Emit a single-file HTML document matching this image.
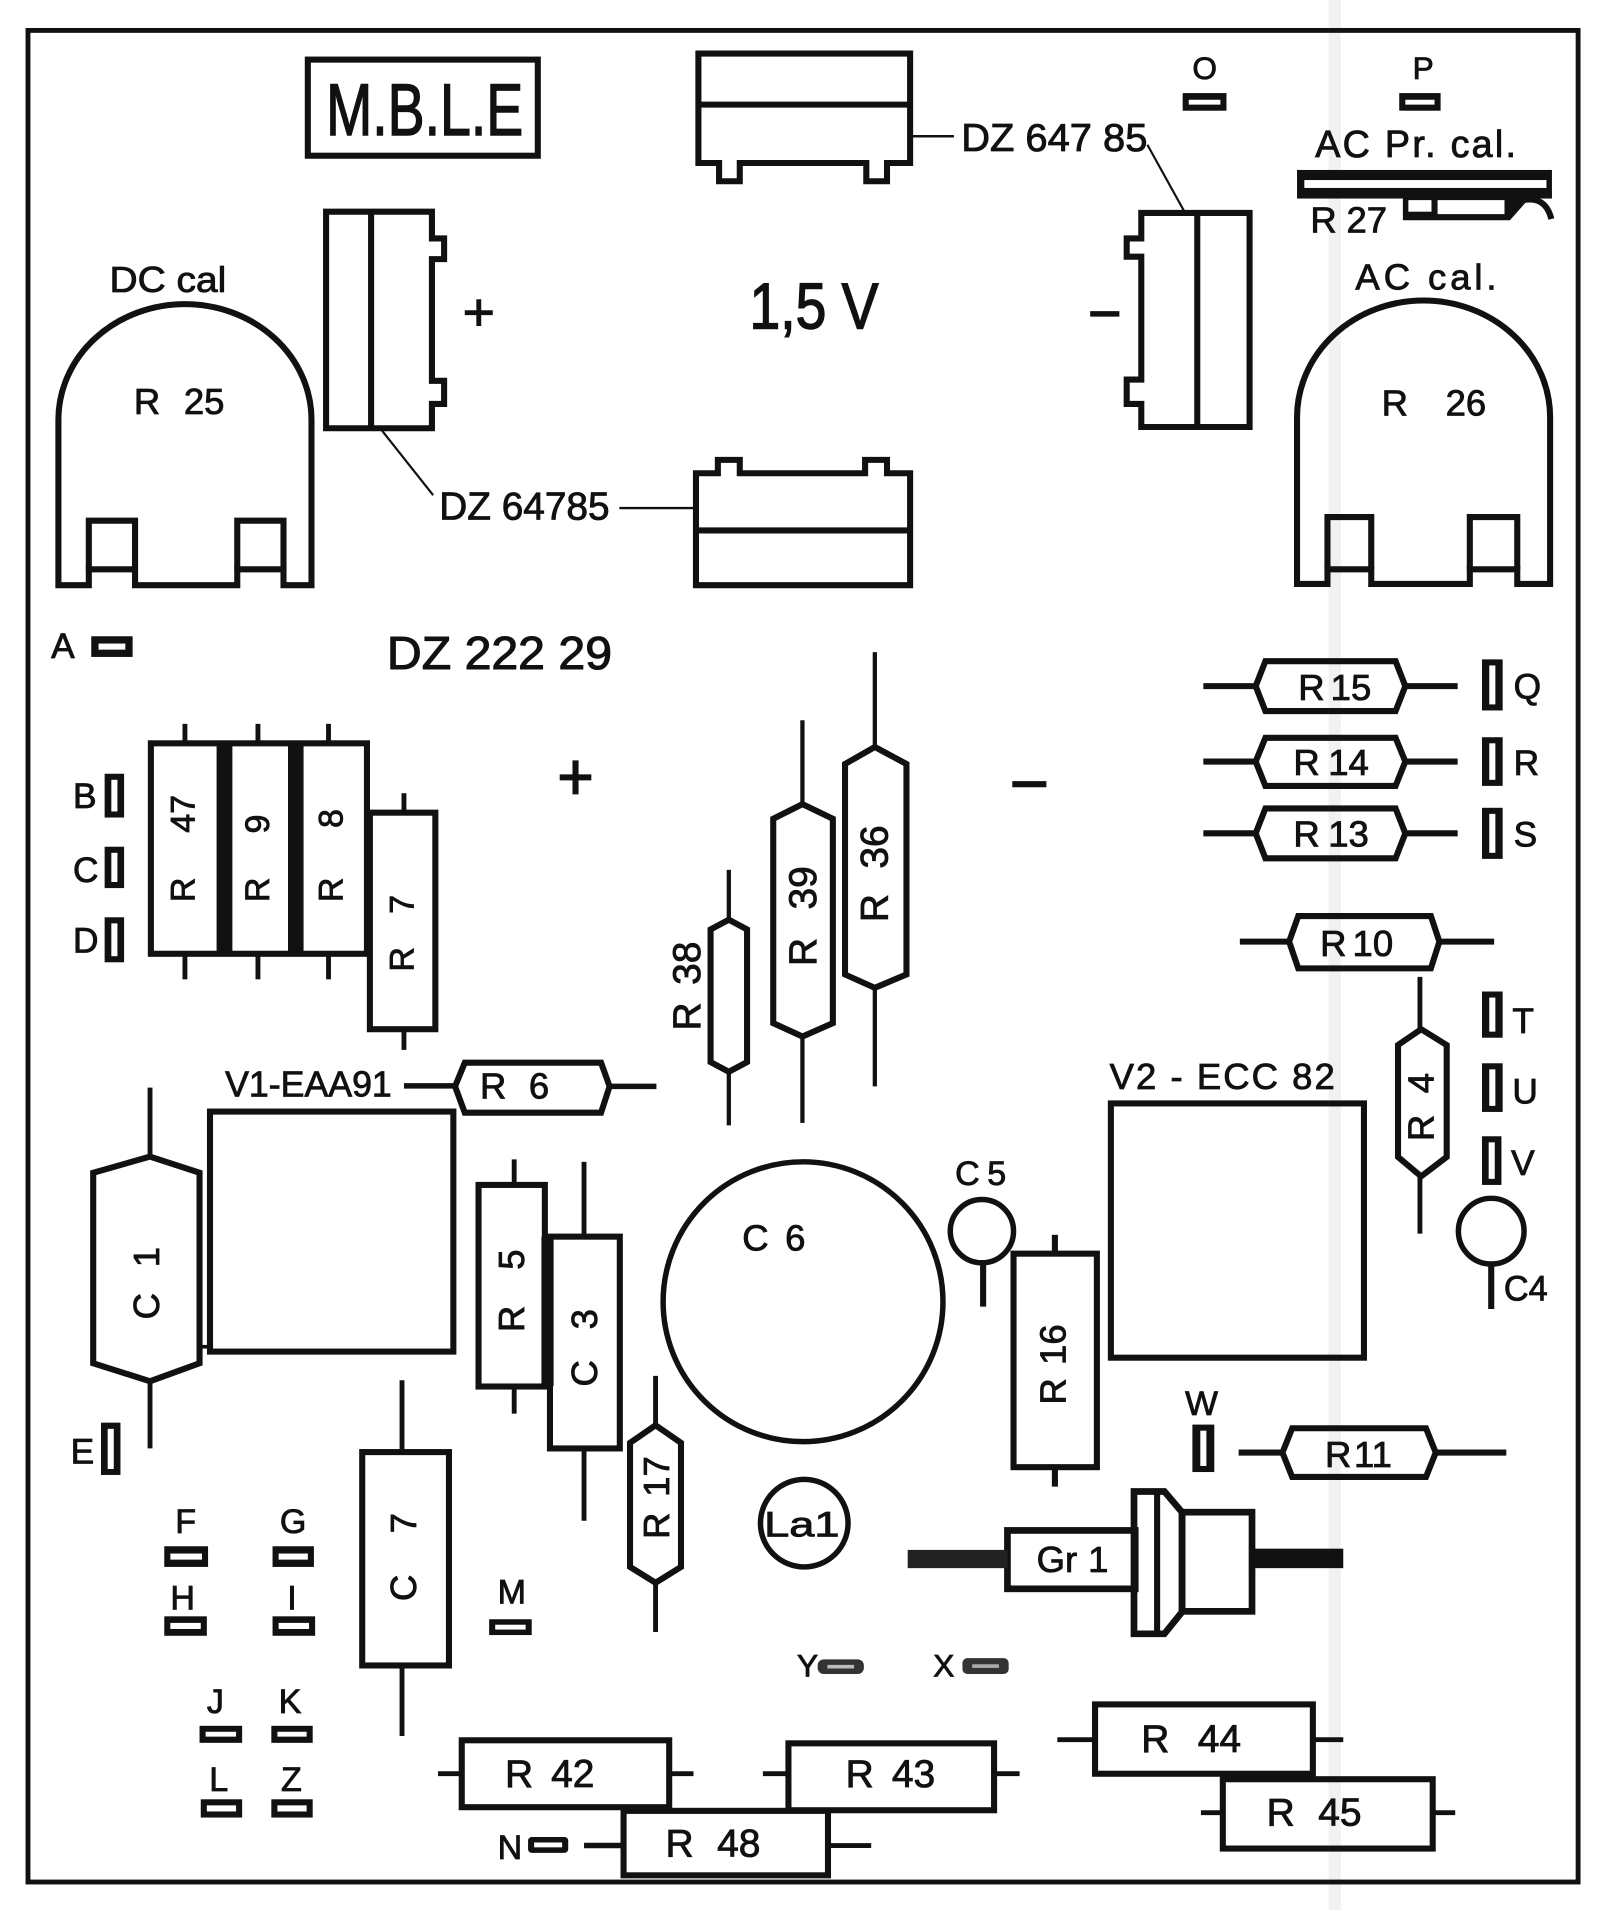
<!DOCTYPE html>
<html><head><meta charset="utf-8"><style>html,body{margin:0;padding:0;background:#fff}svg{display:block}</style></head>
<body>
<svg width="1600" height="1910" viewBox="0 0 1315 1570" preserveAspectRatio="none" xmlns="http://www.w3.org/2000/svg" font-family="'Liberation Sans', 'DejaVu Sans', sans-serif" fill="#111">
<rect x="0" y="0" width="1315" height="1570" fill="#fff"/>
<!-- faint fold stripe -->
<rect x="1092" y="0" width="10" height="1570" fill="#e8e8e8" opacity="0.6"/>

<g fill="none" stroke="#111" stroke-width="5" stroke-linejoin="miter">
  <!-- border -->
  <rect x="23" y="25" width="1274" height="1522" stroke-width="4"/>
  <!-- MBLE -->
  <rect x="253" y="49" width="189" height="79"/>
  <!-- top DZ -->
  <path d="M574,44 H748 V134 H729 V149 H712 V134 H608 V149 H591 V134 H574 Z"/>
  <line x1="574" y1="86" x2="748" y2="86"/>
  <!-- left vertical DZ -->
  <path d="M268,174 H355 V196 H365 V213 H355 V313 H365 V332 H355 V352 H268 Z"/>
  <line x1="305" y1="174" x2="305" y2="352"/>
  <!-- bottom DZ -->
  <path d="M572,389 H590 V378 H608 V389 H711 V378 H729 V389 H748 V481 H572 Z"/>
  <line x1="572" y1="436" x2="748" y2="436"/>
  <!-- right vertical DZ -->
  <path d="M1027,175 V351 H938 V332 H926 V312 H938 V211 H926 V196 H938 V175 Z"/>
  <line x1="984" y1="175" x2="984" y2="351"/>
  <!-- R25 dome -->
  <path d="M48,481 V345 A104,95 0 0 1 256,345 V481 H233 V468 H195 V481 H111 V468 H73 V481 Z"/>
  <path d="M73,468 V428 H111 V468 M195,468 V428 H233 V468"/>
  <!-- R26 dome -->
  <path d="M1066,480 V343 A104,96 0 0 1 1274,343 V480 H1247 V468 H1208 V480 H1127 V468 H1091 V480 Z"/>
  <path d="M1091,468 V425 H1127 V468 M1208,468 V425 H1247 V468"/>

  <!-- R47 R9 R8 block -->
  <rect x="124" y="611" width="177.6" height="173"/>
  <line x1="152" y1="595" x2="152" y2="611" stroke-width="4"/>
  <line x1="212" y1="595" x2="212" y2="611" stroke-width="4"/>
  <line x1="270" y1="595" x2="270" y2="611" stroke-width="4"/>
  <line x1="152" y1="784" x2="152" y2="805" stroke-width="4"/>
  <line x1="212" y1="784" x2="212" y2="805" stroke-width="4"/>
  <line x1="270" y1="784" x2="270" y2="805" stroke-width="4"/>
  <!-- R7 -->
  <rect x="304" y="668" width="53.8" height="178"/>
  <line x1="332" y1="652" x2="332" y2="668" stroke-width="4"/>
  <line x1="332" y1="846" x2="332" y2="863" stroke-width="4"/>

  <!-- R38 -->
  <path d="M599,756 L614,764 V873 L599,881 L584,873 V764 Z"/>
  <line x1="599" y1="715" x2="599" y2="756" stroke-width="3.5"/>
  <line x1="599" y1="881" x2="599" y2="925" stroke-width="3.5"/>
  <!-- R39 -->
  <path d="M659.5,661 L684.5,673 V841 L659.5,852 L635.5,841 V673 Z"/>
  <line x1="659.5" y1="592" x2="659.5" y2="661" stroke-width="3.5"/>
  <line x1="659.5" y1="852" x2="659.5" y2="923" stroke-width="3.5"/>
  <!-- R36 -->
  <path d="M719,614 L745,628 V801 L719,812 L694.5,801 V628 Z"/>
  <line x1="719" y1="536" x2="719" y2="614" stroke-width="3.5"/>
  <line x1="719" y1="812" x2="719" y2="893" stroke-width="3.5"/>

  <!-- R15 R14 R13 R10 -->
  <path d="M1032,564 L1040,543.5 H1147 L1155,564 L1147,584.5 H1040 Z"/>
  <path d="M1032,626 L1040,606.5 H1147 L1155,626 L1147,646 H1040 Z"/>
  <path d="M1032,685 L1040,664.5 H1147 L1155,685 L1147,705.5 H1040 Z"/>
  <path d="M1059.5,774 L1067,753 H1176 L1183,774 L1176,796 H1067 Z"/>
  <g stroke-width="5">
    <line x1="989" y1="564" x2="1032" y2="564"/><line x1="1155" y1="564" x2="1198" y2="564"/>
    <line x1="989" y1="626" x2="1032" y2="626"/><line x1="1155" y1="626" x2="1198" y2="626"/>
    <line x1="989" y1="685" x2="1032" y2="685"/><line x1="1155" y1="685" x2="1198" y2="685"/>
    <line x1="1019" y1="774" x2="1059.5" y2="774"/><line x1="1183" y1="774" x2="1228" y2="774"/>
  </g>
  <!-- R4 -->
  <path d="M1168,846 L1189,859 V951 L1168,967 L1149,951 V859 Z"/>
  <line x1="1167" y1="803" x2="1167" y2="846" stroke-width="4"/>
  <line x1="1167" y1="967" x2="1167" y2="1014" stroke-width="4"/>
  <!-- C4 -->
  <circle cx="1225.6" cy="1012" r="27" stroke-width="4.5"/>
  <line x1="1225.6" y1="1039" x2="1225.6" y2="1076" stroke-width="5"/>
  <!-- V2 -->
  <rect x="913" y="907" width="208" height="209"/>
  <!-- C5 -->
  <circle cx="807" cy="1012" r="26" stroke-width="4.5"/>
  <line x1="808" y1="1038" x2="808" y2="1074" stroke-width="5"/>
  <!-- R16 -->
  <rect x="833" y="1030.5" width="68.5" height="175.5"/>
  <line x1="867" y1="1015" x2="867" y2="1030" stroke-width="5"/>
  <line x1="867" y1="1206" x2="867" y2="1222" stroke-width="5"/>
  <!-- C6 -->
  <circle cx="660" cy="1070" r="115" stroke-width="4.5"/>
  <!-- La1 -->
  <circle cx="661" cy="1252" r="36" stroke-width="4.5"/>
  <!-- Gr1 -->
  <rect x="828" y="1258" width="105" height="48" stroke-width="5.5"/>
  <path d="M932,1226 H957 L971.5,1243 V1325 L957,1343 H932 Z" stroke-width="5.5"/>
  <line x1="951" y1="1226" x2="951" y2="1343" stroke-width="5"/>
  <rect x="971.5" y="1243" width="57.5" height="81.5" stroke-width="5.5"/>
  <!-- R11 -->
  <path d="M1054,1194 L1062,1174 H1172 L1180,1194 L1172,1214 H1062 Z"/>
  <line x1="1018" y1="1194" x2="1054" y2="1194"/><line x1="1180" y1="1194" x2="1238" y2="1194"/>
  <!-- R44 R45 R43 R42 R48 -->
  <rect x="900" y="1401" width="179" height="57"/>
  <line x1="869" y1="1430" x2="900" y2="1430" stroke-width="4"/><line x1="1079" y1="1430" x2="1104" y2="1430" stroke-width="4"/>
  <rect x="1005" y="1462.5" width="172.5" height="57"/>
  <line x1="987" y1="1490" x2="1005" y2="1490" stroke-width="4"/><line x1="1177" y1="1490" x2="1196" y2="1490" stroke-width="4"/>
  <rect x="648" y="1433" width="169" height="55"/>
  <line x1="627" y1="1458" x2="648" y2="1458" stroke-width="4"/><line x1="817" y1="1458" x2="838" y2="1458" stroke-width="4"/>
  <rect x="379.5" y="1430.5" width="170.5" height="55"/>
  <line x1="360" y1="1458" x2="379.5" y2="1458" stroke-width="4"/><line x1="550" y1="1458" x2="570" y2="1458" stroke-width="4"/>
  <rect x="512.5" y="1488.5" width="168" height="53"/>
  <line x1="480" y1="1517" x2="512.5" y2="1517" stroke-width="4.5"/><line x1="680.5" y1="1517" x2="716" y2="1517" stroke-width="4"/>
  <!-- C7 -->
  <rect x="297.7" y="1193.6" width="71.3" height="175.4"/>
  <line x1="330.4" y1="1134.6" x2="330.4" y2="1193.6" stroke-width="4"/>
  <line x1="330.4" y1="1369" x2="330.4" y2="1427" stroke-width="4"/>
  <!-- C1 -->
  <path d="M123.3,950.7 L164,964 V1120.6 L123.3,1135.4 L76.6,1120.6 V964 Z"/>
  <line x1="123.3" y1="894" x2="123.3" y2="950.7" stroke-width="4"/>
  <line x1="123.3" y1="1135.4" x2="123.3" y2="1190.6" stroke-width="4"/>
  <!-- V1 -->
  <rect x="172.6" y="913.7" width="200" height="197.3"/>
  <line x1="164" y1="1107" x2="172.6" y2="1107" stroke-width="3"/>
  <line x1="332" y1="892.6" x2="374" y2="892.6" stroke-width="4.5"/>
  <!-- R6 -->
  <path d="M374,893 L382,873.5 H494 L501,893 L494,914.6 H382 Z"/>
  <line x1="501" y1="893" x2="539.5" y2="893" stroke-width="4.5"/>
  <!-- R5 -->
  <rect x="393.3" y="974" width="54.5" height="165.7"/>
  <line x1="422.6" y1="953" x2="422.6" y2="974" stroke-width="4"/>
  <line x1="422.6" y1="1139.7" x2="422.6" y2="1162" stroke-width="4"/>
  <!-- C3 -->
  <rect x="452" y="1016.5" width="57.4" height="174.1"/>
  <line x1="480" y1="955" x2="480" y2="1016.5" stroke-width="4"/>
  <line x1="480" y1="1190.6" x2="480" y2="1250" stroke-width="4"/>
  <!-- R17 -->
  <path d="M538.8,1171.5 L559.7,1186 V1288 L538.8,1301 L517.8,1288 V1186 Z"/>
  <line x1="538.8" y1="1131" x2="538.8" y2="1171.5" stroke-width="4"/>
  <line x1="538.8" y1="1301" x2="538.8" y2="1341.5" stroke-width="4"/>

  <!-- leader lines -->
  <line x1="748" y1="112" x2="784" y2="112" stroke-width="2"/>
  <line x1="943" y1="119" x2="974" y2="175" stroke-width="1.8"/>
  <line x1="314" y1="354" x2="356" y2="407" stroke-width="1.8"/>
  <line x1="509" y1="417.6" x2="572" y2="417.6" stroke-width="2"/>
  <!-- plus/minus -->
  <line x1="382" y1="257" x2="405" y2="257" stroke-width="4"/>
  <line x1="393.5" y1="246" x2="393.5" y2="268" stroke-width="4"/>
  <line x1="896" y1="258" x2="920" y2="258" stroke-width="4.5"/>
  <line x1="460" y1="639" x2="486" y2="639" stroke-width="5"/>
  <line x1="473" y1="625" x2="473" y2="653" stroke-width="5"/>
  <line x1="832" y1="644.6" x2="860" y2="644.6" stroke-width="5"/>
  <!-- R27 hook -->
  <path d="M1250,165 Q1270,160 1275,180" stroke-width="5"/>
</g>

<!-- filled pieces -->
<rect x="178" y="611" width="13" height="173"/>
<rect x="236.7" y="611" width="12.8" height="173"/>
<rect x="445" y="1016.5" width="10" height="123"/>
<rect x="746" y="1274" width="82" height="15" fill="#222"/>
<rect x="1029" y="1273" width="75" height="16"/>
<!-- R27 bar -->
<rect x="1066" y="139.7" width="209.5" height="23.5"/>
<rect x="1072" y="148" width="199" height="6.5" fill="#fff"/>
<polygon points="1153,163 1257,163 1241,181 1153,181"/>
<rect x="1157.5" y="164.5" width="19" height="9.5" fill="#fff"/>
<rect x="1181.5" y="164.5" width="55" height="11.5" fill="#fff"/>

<!-- pads horizontal -->
<g>
  <rect x="972" y="76.5" width="36" height="14.5"/><rect x="977" y="82" width="26" height="4" fill="#fff"/>
  <rect x="1150" y="76.5" width="34" height="14.5"/><rect x="1155" y="82" width="24" height="4" fill="#fff"/>
  <rect x="75" y="523" width="34" height="17"/><rect x="81" y="529" width="22" height="5" fill="#fff"/>
  <rect x="135" y="1271" width="36" height="17"/><rect x="140" y="1277" width="26" height="5" fill="#fff"/>
  <rect x="224" y="1271" width="34" height="17"/><rect x="229" y="1277" width="24" height="5" fill="#fff"/>
  <rect x="135" y="1328.6" width="35" height="16"/><rect x="140" y="1334" width="25" height="5" fill="#fff"/>
  <rect x="224" y="1328.6" width="35" height="16"/><rect x="229" y="1334" width="25" height="5" fill="#fff"/>
  <rect x="402" y="1331" width="35" height="13"/><rect x="407" y="1335.5" width="25" height="4" fill="#fff"/>
  <rect x="164" y="1418.6" width="35" height="14"/><rect x="169" y="1423.5" width="25" height="4" fill="#fff"/>
  <rect x="223" y="1418.6" width="34" height="14"/><rect x="228" y="1423.5" width="24" height="4" fill="#fff"/>
  <rect x="165" y="1479" width="34" height="15"/><rect x="170" y="1484" width="24" height="5" fill="#fff"/>
  <rect x="223" y="1479" width="34" height="15"/><rect x="228" y="1484" width="24" height="5" fill="#fff"/>
  <rect x="434" y="1510" width="33" height="13" rx="3"/><rect x="439" y="1514.5" width="23" height="4" fill="#fff"/>
  <rect x="672" y="1364" width="38" height="12" rx="5" fill="#333"/><rect x="680" y="1368.5" width="22" height="3" fill="#bbb"/>
  <rect x="791" y="1363" width="38" height="13" rx="4" fill="#333"/><rect x="799" y="1368" width="22" height="3" fill="#aaa"/>
</g>
<!-- pads vertical -->
<g>
  <rect x="86" y="636" width="16" height="36"/><rect x="91.5" y="641" width="5" height="26" fill="#fff"/>
  <rect x="86" y="696" width="16" height="34"/><rect x="91.5" y="701" width="5" height="24" fill="#fff"/>
  <rect x="86" y="754" width="16" height="37"/><rect x="91.5" y="759" width="5" height="27" fill="#fff"/>
  <rect x="1218" y="542" width="17" height="42"/><rect x="1224" y="547" width="5" height="32" fill="#fff"/>
  <rect x="1218" y="606" width="17" height="40"/><rect x="1224" y="611" width="5" height="30" fill="#fff"/>
  <rect x="1218" y="664" width="17" height="42"/><rect x="1224" y="669" width="5" height="32" fill="#fff"/>
  <rect x="1218" y="815" width="17" height="38"/><rect x="1224" y="820" width="5" height="28" fill="#fff"/>
  <rect x="1218" y="874" width="17" height="40"/><rect x="1224" y="879" width="5" height="30" fill="#fff"/>
  <rect x="1218" y="934" width="16" height="40"/><rect x="1223.5" y="939" width="5" height="30" fill="#fff"/>
  <rect x="83" y="1169.4" width="16" height="43"/><rect x="88.5" y="1174.5" width="5" height="33" fill="#fff"/>
  <rect x="980" y="1171" width="18" height="39"/><rect x="986.5" y="1176" width="5" height="29" fill="#fff"/>
</g>

<!-- horizontal text -->
<g font-size="30" stroke="#111" stroke-width="0.7">
  <text x="268" y="111" font-size="60" stroke-width="1.2" textLength="162" lengthAdjust="spacingAndGlyphs">M.B.L.E</text>
  <text x="790" y="124" font-size="32" textLength="153" lengthAdjust="spacingAndGlyphs">DZ  647 85</text>
  <text x="361" y="427" font-size="32" textLength="140" lengthAdjust="spacingAndGlyphs">DZ 64785</text>
  <text x="616" y="270" font-size="53" stroke-width="1.2" textLength="106" lengthAdjust="spacingAndGlyphs">1,5 V</text>
  <text x="90" y="240" textLength="96" lengthAdjust="spacingAndGlyphs">DC cal</text>
  <text x="110" y="340.5">R</text><text x="184.5" y="340.5" text-anchor="end">25</text>
  <text x="1114" y="238" textLength="116" lengthAdjust="spacing">AC cal.</text>
  <text x="1135.5" y="341.5">R</text><text x="1221.5" y="341.5" text-anchor="end">26</text>
  <text x="980" y="65" font-size="26">O</text>
  <text x="1161" y="65" font-size="26">P</text>
  <text x="1081" y="129" font-size="31" textLength="165" lengthAdjust="spacing">AC Pr. cal.</text>
  <text x="1077" y="191">R</text><text x="1140" y="191" text-anchor="end">27</text>
  <text x="42" y="541" font-size="29">A</text>
  <text x="318" y="550" font-size="38" stroke-width="0.9" textLength="185" lengthAdjust="spacingAndGlyphs">DZ  222 29</text>
  <text x="60" y="664" font-size="29">B</text>
  <text x="60" y="725" font-size="29">C</text>
  <text x="60" y="783" font-size="29">D</text>
  <text x="1067" y="575.6">R</text><text x="1127" y="575.6" text-anchor="end">15</text>
  <text x="1063" y="637">R</text><text x="1125" y="637" text-anchor="end">14</text>
  <text x="1063" y="696">R</text><text x="1125" y="696" text-anchor="end">13</text>
  <text x="1085" y="786">R</text><text x="1145" y="786" text-anchor="end">10</text>
  <text x="1244" y="574" font-size="29">Q</text>
  <text x="1244" y="637" font-size="29">R</text>
  <text x="1244" y="696" font-size="29">S</text>
  <text x="1243" y="849" font-size="29">T</text>
  <text x="1243" y="907" font-size="29">U</text>
  <text x="1242" y="966" font-size="29">V</text>
  <text x="1236" y="1069" font-size="29" textLength="36" lengthAdjust="spacingAndGlyphs">C4</text>
  <text x="912" y="895" textLength="185" lengthAdjust="spacing">V2 - ECC 82</text>
  <text x="785" y="974" font-size="28">C</text><text x="827" y="974" font-size="28" text-anchor="end">5</text>
  <text x="610" y="1028">C</text><text x="662" y="1028" text-anchor="end">6</text>
  <text x="628" y="1263" font-size="29" textLength="62" lengthAdjust="spacingAndGlyphs">La1</text>
  <text x="852" y="1292">Gr</text><text x="911" y="1292" text-anchor="end">1</text>
  <text x="974" y="1163" font-size="28" textLength="27" lengthAdjust="spacingAndGlyphs">W</text>
  <text x="1089" y="1206">R</text><text x="1144" y="1206" text-anchor="end">11</text>
  <text x="655" y="1378" font-size="26">Y</text>
  <text x="767" y="1378" font-size="26">X</text>
  <text x="938" y="1440" font-size="32">R</text><text x="1020" y="1440" font-size="32" text-anchor="end">44</text>
  <text x="1041" y="1500.6" font-size="32">R</text><text x="1119" y="1500.6" font-size="32" text-anchor="end">45</text>
  <text x="695" y="1469" font-size="32">R</text><text x="768.6" y="1469" font-size="32" text-anchor="end">43</text>
  <text x="415" y="1469" font-size="32">R</text><text x="488.5" y="1469" font-size="32" text-anchor="end">42</text>
  <text x="547" y="1526" font-size="32">R</text><text x="625" y="1526" font-size="32" text-anchor="end">48</text>
  <text x="409" y="1528" font-size="28">N</text>
  <text x="185" y="901.4" textLength="137" lengthAdjust="spacingAndGlyphs">V1-EAA91</text>
  <text x="394.5" y="903">R</text><text x="451.4" y="903" text-anchor="end">6</text>
  <text x="58" y="1203" font-size="29">E</text>
  <text x="144" y="1260" font-size="28">F</text>
  <text x="230" y="1260" font-size="28">G</text>
  <text x="140" y="1323" font-size="28">H</text>
  <text x="240" y="1323" font-size="28" text-anchor="middle">I</text>
  <text x="409" y="1318" font-size="28">M</text>
  <text x="170" y="1408" font-size="28">J</text>
  <text x="229" y="1408" font-size="28">K</text>
  <text x="172" y="1472" font-size="28">L</text>
  <text x="231" y="1472" font-size="28">Z</text>
</g>

<!-- rotated labels -->
<g font-size="28" stroke="#111" stroke-width="0.7">
  <g transform="rotate(-90 150 697)"><text x="105.5" y="707">R</text><text x="193.6" y="707" text-anchor="end">47</text></g>
  <g transform="rotate(-90 211 705)"><text x="174.5" y="715">R</text><text x="246.4" y="715" text-anchor="end">9</text></g>
  <g transform="rotate(-90 271.6 703)"><text x="233.1" y="713">R</text><text x="309.6" y="713" text-anchor="end">8</text></g>
  <g transform="rotate(-90 330 766)"><text x="297.3" y="776">R</text><text x="360.4" y="776" text-anchor="end">7</text></g>
</g>
<g font-size="32" stroke="#111" stroke-width="0.7">
  <g transform="rotate(-90 564 811)"><text x="528" y="822.5">R</text><text x="601" y="822.5" text-anchor="end">38</text></g>
  <g transform="rotate(-90 659 753)"><text x="618" y="764.5">R</text><text x="700" y="764.5" text-anchor="end">39</text></g>
  <g transform="rotate(-90 718 718)"><text x="678" y="729.5">R</text><text x="757.6" y="729.5" text-anchor="end">36</text></g>
</g>
<g font-size="30" stroke="#111" stroke-width="0.7">
  <g transform="rotate(-90 1167 907)"><text x="1136" y="918">R</text><text x="1192" y="918" text-anchor="end">4</text></g>
  <g transform="rotate(-90 865 1121.6)"><text x="832" y="1132.4">R</text><text x="898" y="1132.4" text-anchor="end">16</text></g>
  <g transform="rotate(-90 120 1054)"><text x="89.5" y="1064.8">C</text><text x="149" y="1064.8" text-anchor="end">1</text></g>
  <g transform="rotate(-90 420 1061)"><text x="386" y="1071.8">R</text><text x="454" y="1071.8" text-anchor="end">5</text></g>
  <g transform="rotate(-90 480 1108)"><text x="448.3" y="1118.8">C</text><text x="512" y="1118.8" text-anchor="end">3</text></g>
  <g transform="rotate(-90 539 1231)"><text x="505" y="1241.8">R</text><text x="573" y="1241.8" text-anchor="end">17</text></g>
  <g transform="rotate(-90 331 1280)"><text x="295" y="1290.8">C</text><text x="367.3" y="1290.8" text-anchor="end">7</text></g>
</g>
</svg>
</body></html>
